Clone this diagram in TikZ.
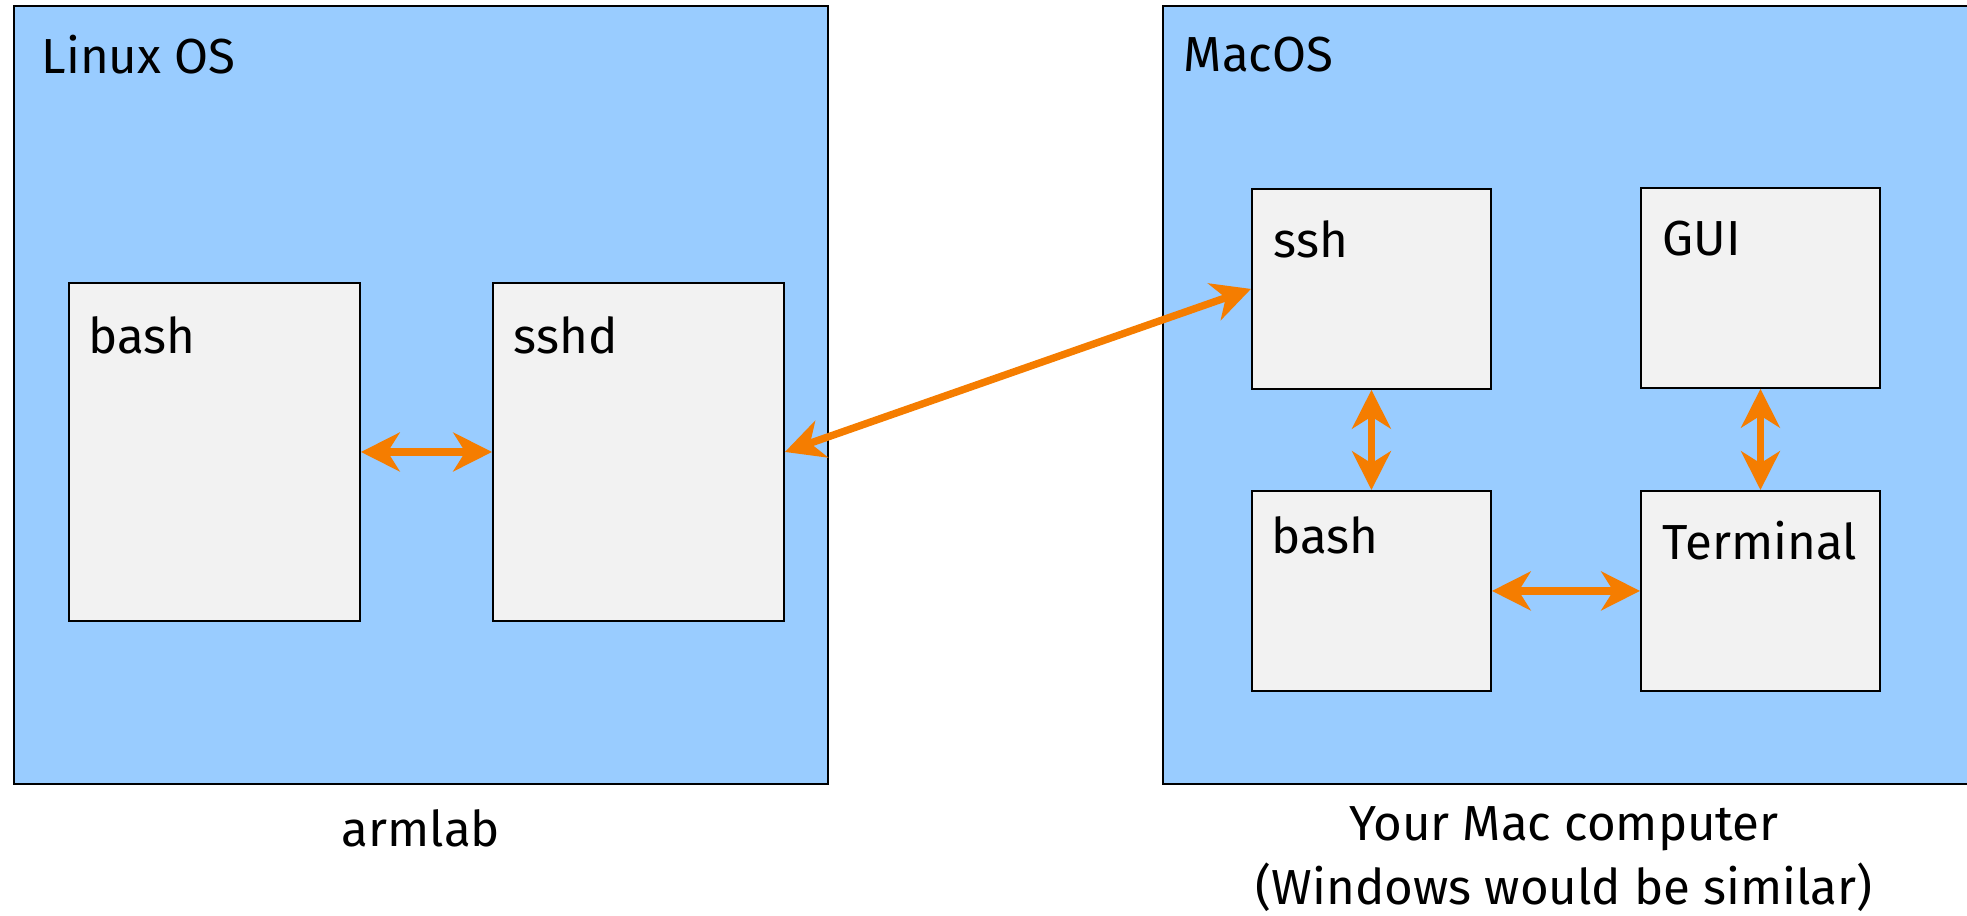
\documentclass[tikz,border=0pt]{standalone}
\usepackage{fontspec}
\setmainfont{Fira Sans}
\usetikzlibrary{arrows.meta}
\definecolor{osblue}{RGB}{153,204,255}
\definecolor{procgray}{RGB}{242,242,242}
\definecolor{linkorange}{RGB}{245,125,0}

\begin{document}
\begin{tikzpicture}[x=0.01cm, y=-0.01cm,
    font=\fontsize{14}{18}\selectfont,
    osbox/.style={draw=black, line width=0.6pt, fill=osblue},
    proc/.style={draw=black, line width=0.5pt, fill=procgray, anchor=north west,
        inner sep=0pt, minimum width=#1},
    proc/.default=2.91cm,
    tag/.style={anchor=north west, inner sep=0pt},
    link/.style={draw=linkorange, line width=2.1pt,
        {Stealth[length=11pt, width=11pt, inset=3.4pt]}-{Stealth[length=11pt, width=11pt, inset=3.4pt]}}]
    \useasboundingbox (0,0) rectangle (1967,916);
    % the two machines
    \filldraw[osbox] (14,6) rectangle (828,784);
    \filldraw[osbox] (1163,6) rectangle (2000,784);
    \node[tag] (linux) at (41,34) {Linux OS};
    \node[tag] (macos) at (1183,36) {MacOS};
    % processes on armlab
    \node[proc, minimum height=3.38cm] (lbash) at (68,282) {};
    \node[proc, minimum height=3.38cm] (sshd) at (492,282) {};
    \node[tag] (lbashT) at (88,316) {bash};
    \node[tag] (sshdT) at (513,316) {sshd};
    % processes on the mac
    \node[proc=2.39cm, minimum height=2.0cm] (ssh) at (1251,188) {};
    \node[proc=2.39cm, minimum height=2.0cm] (gui) at (1640,187) {};
    \node[proc=2.39cm, minimum height=2.0cm] (mbash) at (1251,490) {};
    \node[proc=2.39cm, minimum height=2.0cm] (term) at (1640,490) {};
    \node[tag] (sshT) at (1273,220) {ssh};
    \node[tag] (guiT) at (1662,220) {GUI};
    \node[tag] (mbashT) at (1271,516) {bash};
    \node[tag] (termT) at (1662,520) {Terminal};
    % connections
    \draw[link] (lbash) -- (sshd);
    \draw[link] (sshd.east) -- (ssh.west);
    \draw[link] (ssh) -- (mbash);
    \draw[link] (gui) -- (term);
    \draw[link] (mbash) -- (term);
    % captions
    \node (armlab) at (421,828) {armlab};
    \node[align=center] (mac) at (1564,859) {Your Mac computer\\(Windows would be similar)};
\end{tikzpicture}
\end{document}
